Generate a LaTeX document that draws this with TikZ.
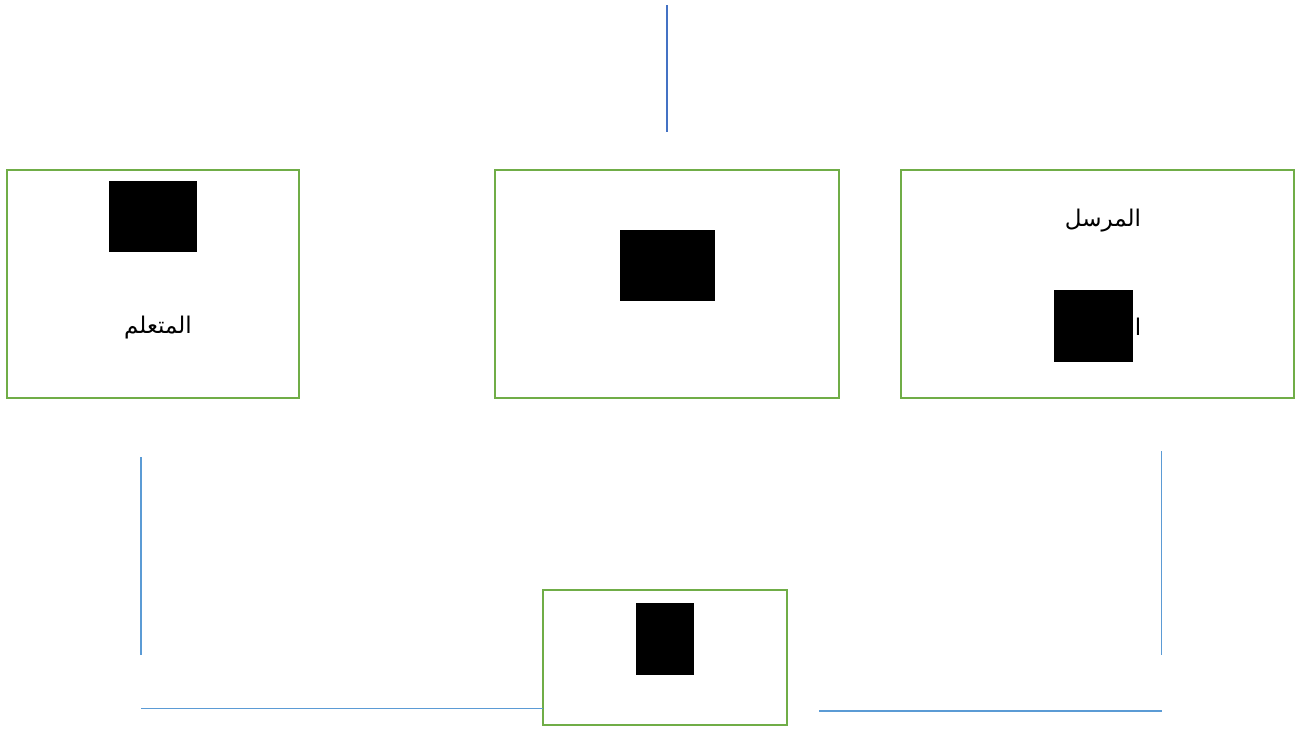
\documentclass[tikz,border=0pt]{standalone}
\usepackage{fontspec}
\newfontfamily\arabicfont[Script=Arabic]{DejaVu Sans}
\TeXXeTstate=1
\definecolor{boxgreen}{HTML}{70AD47}
\definecolor{lineblue}{HTML}{5B9BD5}
\definecolor{darkblue}{HTML}{4472C4}
\begin{document}
\begin{tikzpicture}[x=1pt,y=-1pt,
  gbox/.style={draw=boxgreen,line width=2.4pt},
  blk/.style={fill=black},
  ln/.style={draw=lineblue,line width=1.3pt},
  lnd/.style={draw=darkblue,line width=1.3pt},
  ar/.style={font=\arabicfont\fontsize{23}{27}\selectfont,inner sep=0pt}]
\useasboundingbox[fill=white] (0,0) rectangle (1296,731);
% boxes
\draw[gbox] (7,170) rectangle (299,398);
\draw[gbox] (495,170) rectangle (839,398);
\draw[gbox] (901,170) rectangle (1294,398);
\draw[gbox] (543,590) rectangle (787,725);
% black blocks
\fill[blk] (109,181) rectangle (197,252);
\fill[blk] (620,230) rectangle (715,301);
\fill[blk] (1054,290) rectangle (1133,362);
\fill[blk] (636,603) rectangle (694,675);
% texts
\node[ar] (sender) at (1103,221) {\beginR المرسل\endR};
\node[ar] (alef) at (1138,327) {\beginR ا\endR};
\node[ar] (learner) at (158,328) {\beginR المتعلم\endR};
% lines
\coordinate (t1) at (667,5); \coordinate (t2) at (667,132);
\draw[lnd] (t1) -- (t2);
\coordinate (l1) at (141,457); \coordinate (l2) at (141,655);
\draw[ln] (l1) -- (l2);
\coordinate (r1) at (1161.5,451); \coordinate (r2) at (1161.5,655);
\draw[ln] (r1) -- (r2);
\coordinate (b1) at (141,708.5); \coordinate (b2) at (543,708.5);
\draw[ln] (b1) -- (b2);
\coordinate (c1) at (819,711); \coordinate (c2) at (1162,711);
\draw[ln] (c1) -- (c2);
\end{tikzpicture}
\end{document}
